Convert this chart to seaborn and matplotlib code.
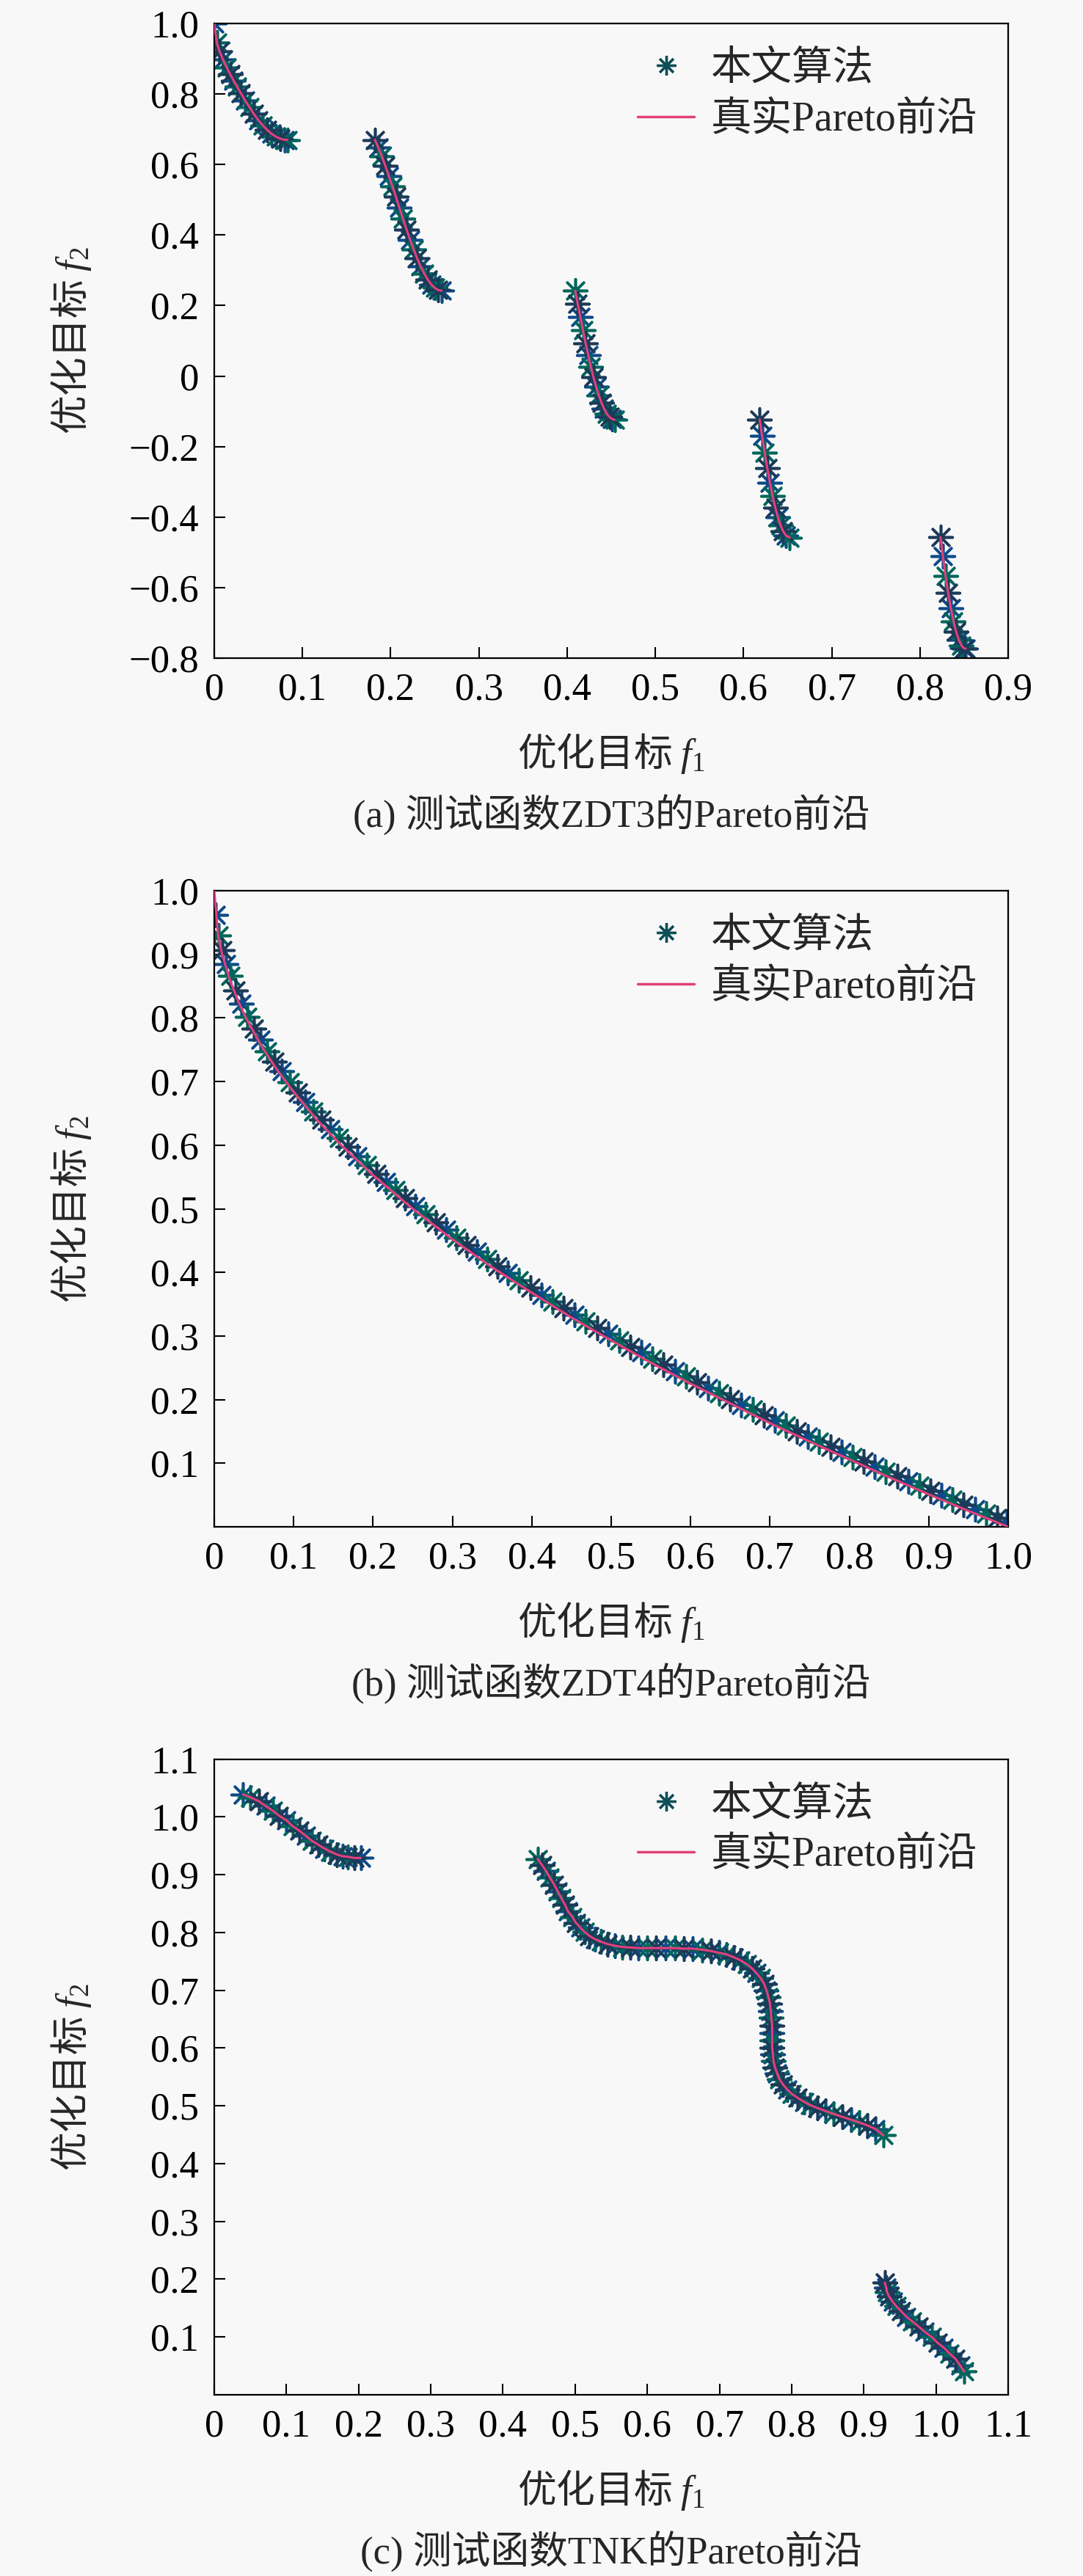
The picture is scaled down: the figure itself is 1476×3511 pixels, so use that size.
import numpy as np
import pandas as pd
import matplotlib
matplotlib.use("Agg")
import matplotlib.pyplot as plt
from matplotlib.lines import Line2D
from matplotlib.ticker import FuncFormatter, FixedLocator
import seaborn as sns

# ---------------- data ----------------
# (a) ZDT3: algorithm points, lying on the true front
ZDT3_F1 = [0.000, 0.003, 0.006, 0.010, 0.014, 0.018, 0.022, 0.026, 0.030, 0.035, 0.040, 0.045,
           0.050, 0.055, 0.060, 0.065, 0.070, 0.075, 0.080, 0.083,
           0.1822, 0.186, 0.190, 0.194, 0.198, 0.202, 0.206, 0.210, 0.214, 0.218, 0.222, 0.226,
           0.230, 0.234, 0.238, 0.242, 0.246, 0.250, 0.254, 0.2577,
           0.4093, 0.412, 0.415, 0.418, 0.421, 0.424, 0.427, 0.430, 0.433, 0.436, 0.439, 0.442,
           0.445, 0.448, 0.451, 0.4538,
           0.6183, 0.621, 0.624, 0.627, 0.630, 0.633, 0.636, 0.639, 0.642, 0.645, 0.648, 0.6525,
           0.8233, 0.826, 0.829, 0.832, 0.835, 0.838, 0.841, 0.844, 0.847, 0.850, 0.8518]
ZDT3_F2 = [1.000, 0.945, 0.921, 0.897, 0.876, 0.856, 0.838, 0.820, 0.803, 0.782, 0.762, 0.743,
           0.726, 0.711, 0.698, 0.687, 0.679, 0.673, 0.670, 0.670,
           0.670, 0.648, 0.623, 0.596, 0.567, 0.538, 0.508, 0.477, 0.446, 0.416, 0.387, 0.360,
           0.334, 0.311, 0.291, 0.274, 0.260, 0.250, 0.244, 0.242,
           0.242, 0.206, 0.168, 0.130, 0.093, 0.059, 0.026, -0.004, -0.031, -0.055, -0.076, -0.093,
           -0.107, -0.116, -0.122, -0.124,
           -0.123, -0.169, -0.217, -0.262, -0.303, -0.341, -0.373, -0.401, -0.423, -0.440, -0.452, -0.458,
           -0.457, -0.511, -0.566, -0.615, -0.658, -0.695, -0.725, -0.748, -0.764, -0.772, -0.773]

# (b) ZDT4: true front and algorithm points
ZDT4_TRUE_F1 = [0.0, 0.005, 0.01, 0.02, 0.03, 0.04, 0.06, 0.08, 0.10, 0.13, 0.16, 0.20, 0.25, 0.30,
                0.35, 0.40, 0.45, 0.50, 0.55, 0.60, 0.65, 0.70, 0.75, 0.80, 0.85, 0.90, 0.95, 1.0]
ZDT4_TRUE_F2 = [1.0, 0.929, 0.900, 0.859, 0.827, 0.800, 0.755, 0.717, 0.684, 0.639, 0.600, 0.553,
                0.500, 0.452, 0.408, 0.368, 0.329, 0.293, 0.258, 0.225, 0.194, 0.163, 0.134, 0.106,
                0.078, 0.051, 0.025, 0.0]
ZDT4_F1 = [0.002, 0.006, 0.010, 0.015, 0.020, 0.027, 0.034, 0.042, 0.050, 0.058, 0.067, 0.076,
           0.085, 0.095, 0.105, 0.115, 0.125, 0.135, 0.146, 0.157, 0.168, 0.180, 0.192, 0.204,
           0.216, 0.228, 0.240, 0.253, 0.266, 0.279, 0.292, 0.305, 0.318, 0.331, 0.344, 0.357,
           0.370, 0.384, 0.398, 0.412, 0.426, 0.440, 0.454, 0.468, 0.482, 0.496, 0.510, 0.524,
           0.538, 0.552, 0.566, 0.580, 0.594, 0.608, 0.622, 0.636, 0.650, 0.664, 0.678, 0.692,
           0.706, 0.720, 0.734, 0.748, 0.762, 0.776, 0.790, 0.804, 0.818, 0.832, 0.846, 0.860,
           0.874, 0.888, 0.902, 0.916, 0.930, 0.944, 0.958, 0.972, 0.986, 0.998]
ZDT4_F2 = [0.962, 0.930, 0.907, 0.885, 0.866, 0.843, 0.823, 0.802, 0.783, 0.766, 0.748, 0.731,
           0.716, 0.699, 0.683, 0.668, 0.653, 0.640, 0.625, 0.611, 0.597, 0.583, 0.569, 0.555,
           0.542, 0.530, 0.517, 0.504, 0.491, 0.479, 0.467, 0.455, 0.443, 0.432, 0.421, 0.410,
           0.399, 0.387, 0.376, 0.365, 0.354, 0.344, 0.333, 0.323, 0.313, 0.303, 0.293, 0.283,
           0.274, 0.264, 0.255, 0.245, 0.236, 0.227, 0.218, 0.210, 0.201, 0.192, 0.184, 0.175,
           0.167, 0.159, 0.150, 0.142, 0.134, 0.126, 0.118, 0.110, 0.103, 0.095, 0.087, 0.080,
           0.072, 0.065, 0.057, 0.050, 0.043, 0.035, 0.028, 0.021, 0.014, 0.008]

# (c) TNK: algorithm points, lying on the true front
TNK_F1 = [0.040, 0.050, 0.062, 0.071, 0.081, 0.090, 0.100, 0.109, 0.118, 0.127, 0.135, 0.144,
          0.153, 0.161, 0.170, 0.178, 0.185, 0.194, 0.203,
          0.448, 0.454, 0.460, 0.465, 0.471, 0.476, 0.481, 0.486, 0.490, 0.496, 0.501, 0.507,
          0.513, 0.520, 0.528, 0.536, 0.545, 0.555, 0.565, 0.576, 0.588, 0.600, 0.612, 0.625,
          0.638, 0.651, 0.663, 0.676, 0.688, 0.699, 0.710, 0.720, 0.729, 0.738, 0.745, 0.751,
          0.757, 0.762, 0.765, 0.768, 0.770, 0.771, 0.772, 0.773, 0.773, 0.773, 0.773, 0.774,
          0.775, 0.777, 0.780, 0.783, 0.788, 0.794, 0.800, 0.808, 0.817, 0.826, 0.836, 0.847,
          0.858, 0.870, 0.882, 0.894, 0.905, 0.916, 0.927,
          0.929, 0.931, 0.932, 0.935, 0.940, 0.945, 0.952, 0.959, 0.967, 0.976, 0.984, 0.994,
          1.002, 1.011, 1.019, 1.027, 1.034, 1.039]
TNK_F2 = [1.039, 1.034, 1.027, 1.019, 1.011, 1.002, 0.994, 0.984, 0.976, 0.967, 0.959, 0.952,
          0.945, 0.940, 0.935, 0.932, 0.931, 0.929, 0.929,
          0.927, 0.917, 0.906, 0.895, 0.883, 0.871, 0.859, 0.848, 0.837, 0.827, 0.817, 0.809,
          0.801, 0.794, 0.788, 0.784, 0.780, 0.777, 0.775, 0.774, 0.773, 0.773, 0.773, 0.773,
          0.773, 0.772, 0.772, 0.770, 0.768, 0.765, 0.762, 0.757, 0.752, 0.745, 0.738, 0.730,
          0.721, 0.711, 0.700, 0.688, 0.677, 0.664, 0.652, 0.639, 0.626, 0.613, 0.601, 0.589,
          0.577, 0.566, 0.556, 0.546, 0.537, 0.528, 0.521, 0.514, 0.507, 0.501, 0.496, 0.491,
          0.486, 0.481, 0.476, 0.471, 0.466, 0.460, 0.449,
          0.194, 0.185, 0.178, 0.170, 0.161, 0.153, 0.144, 0.135, 0.127, 0.118, 0.109, 0.100,
          0.090, 0.081, 0.071, 0.062, 0.050, 0.040]

XTICKS_A = [0, 0.1, 0.2, 0.3, 0.4, 0.5, 0.6, 0.7, 0.8, 0.9]
YTICKS_A = [-0.8, -0.6, -0.4, -0.2, 0, 0.2, 0.4, 0.6, 0.8, 1.0]
XTICKS_B = [0, 0.1, 0.2, 0.3, 0.4, 0.5, 0.6, 0.7, 0.8, 0.9, 1.0]
YTICKS_B = [0.1, 0.2, 0.3, 0.4, 0.5, 0.6, 0.7, 0.8, 0.9, 1.0]
XTICKS_C = [0, 0.1, 0.2, 0.3, 0.4, 0.5, 0.6, 0.7, 0.8, 0.9, 1.0, 1.1]
YTICKS_C = [0.1, 0.2, 0.3, 0.4, 0.5, 0.6, 0.7, 0.8, 0.9, 1.0, 1.1]

LEGEND_LABELS = ["本文算法", "真实Pareto前沿"]
XLABEL = r"优化目标 $f_\mathsf{1}$"
YLABEL = r"优化目标 $f_\mathsf{2}$"
CAPTIONS = ["(a) 测试函数ZDT3的Pareto前沿", "(b) 测试函数ZDT4的Pareto前沿", "(c) 测试函数TNK的Pareto前沿"]

# ---------------- style ----------------
BG = "#f8f8f8"
PINK = "#e2407c"
MARKER_COLORS = ["#0d4a8a", "#00665a", "#1c3a58"]
AST = (8, 2, 0)
CJK = "Noto Sans CJK SC"

sns.set_style("ticks")
plt.rcParams["font.family"] = ["Liberation Serif", CJK]
plt.rcParams["mathtext.fontset"] = "custom"
plt.rcParams["mathtext.rm"] = CJK
plt.rcParams["mathtext.it"] = "Liberation Serif:italic"
plt.rcParams["mathtext.bf"] = "Liberation Serif:bold"
plt.rcParams["mathtext.sf"] = "Liberation Serif"
plt.rcParams["axes.unicode_minus"] = True
FS = 38

fig = plt.figure(figsize=(14.76, 35.11), dpi=100, facecolor=BG)
positions = [
    [0.1978, 0.7445, 0.7331, 0.2464],
    [0.1978, 0.4073, 0.7331, 0.2469],
    [0.1978, 0.0704, 0.7331, 0.2467],
]


def fmt(v, pos=None):
    if abs(v) < 1e-9:
        return "0"
    return f"{v:.1f}".replace("-", "\u2212")


def segments_of(xs, ys):
    # a new piece of the front starts wherever consecutive points are far apart
    x = np.asarray(xs, float)
    y = np.asarray(ys, float)
    gap = np.hypot(np.diff(x), np.diff(y)) > 0.08
    return np.concatenate([[0], np.cumsum(gap)])


def draw_points(ax, xs, ys):
    df = pd.DataFrame({"x": xs, "y": ys})
    df["grp"] = np.arange(len(df)) % 3
    for g, c in enumerate(MARKER_COLORS):
        sub = df[df["grp"] == g]
        sns.scatterplot(data=sub, x="x", y="y", ax=ax, marker=AST, s=520,
                        color=c, linewidth=2.6, zorder=2, legend=False)


def draw_front(ax, xs, ys):
    df = pd.DataFrame({"x": xs, "y": ys})
    df["seg"] = segments_of(xs, ys)
    sns.lineplot(data=df, x="x", y="y", units="seg", estimator=None, sort=False,
                 ax=ax, color=PINK, linewidth=2.2, zorder=3, legend=False)


axes = []
for p in positions:
    ax = fig.add_axes(p)
    ax.set_facecolor(BG)
    axes.append(ax)

draw_points(axes[0], ZDT3_F1, ZDT3_F2)
draw_front(axes[0], ZDT3_F1, ZDT3_F2)
draw_points(axes[1], ZDT4_F1, ZDT4_F2)
draw_front(axes[1], ZDT4_TRUE_F1, ZDT4_TRUE_F2)
draw_points(axes[2], TNK_F1, TNK_F2)
draw_front(axes[2], TNK_F1, TNK_F2)

limits = [((0, 0.9), (-0.8, 1.0), XTICKS_A, YTICKS_A),
          ((0, 1.0), (0, 1.0), XTICKS_B, YTICKS_B),
          ((0, 1.1), (0, 1.1), XTICKS_C, YTICKS_C)]

handles = [
    Line2D([], [], marker=AST, linestyle="None", color="#0d4f56", markersize=19, markeredgewidth=2.4),
    Line2D([], [], color=PINK, linewidth=2.5),
]

for ax, (xl, yl, xt, yt), cap in zip(axes, limits, CAPTIONS):
    ax.set_xlim(*xl)
    ax.set_ylim(*yl)
    ax.xaxis.set_major_locator(FixedLocator(xt))
    ax.yaxis.set_major_locator(FixedLocator(yt))
    ax.xaxis.set_major_formatter(FuncFormatter(fmt))
    ax.yaxis.set_major_formatter(FuncFormatter(fmt))
    ax.tick_params(axis="both", direction="in", length=11, width=1.5, labelsize=FS,
                   top=False, right=False, colors="black")
    ax.tick_params(axis="x", pad=14)
    ax.tick_params(axis="y", pad=15)
    for s in ax.spines.values():
        s.set_visible(True)
        s.set_linewidth(1.6)
        s.set_color("black")
    # labels mix CJK (non-math part, drawn in the text's own font) and an italic f
    ax.set_xlabel(XLABEL, fontsize=FS, va="center", family=CJK)
    ax.xaxis.set_label_coords(0.5, -0.150)
    ax.set_ylabel(YLABEL, fontsize=FS, va="center", family=CJK)
    ax.yaxis.set_label_coords(-0.180, 0.5)
    ax.text(0.5, -0.247, cap, transform=ax.transAxes, ha="center", va="center", fontsize=FS)
    ax.legend(handles, LEGEND_LABELS, loc="upper left", bbox_to_anchor=(0.533, 0.958),
              frameon=False, fontsize=40, borderpad=0, borderaxespad=0,
              handlelength=1.4, handletextpad=0.4, labelspacing=0.32)

fig.savefig("out.png", dpi=100, facecolor=BG)
